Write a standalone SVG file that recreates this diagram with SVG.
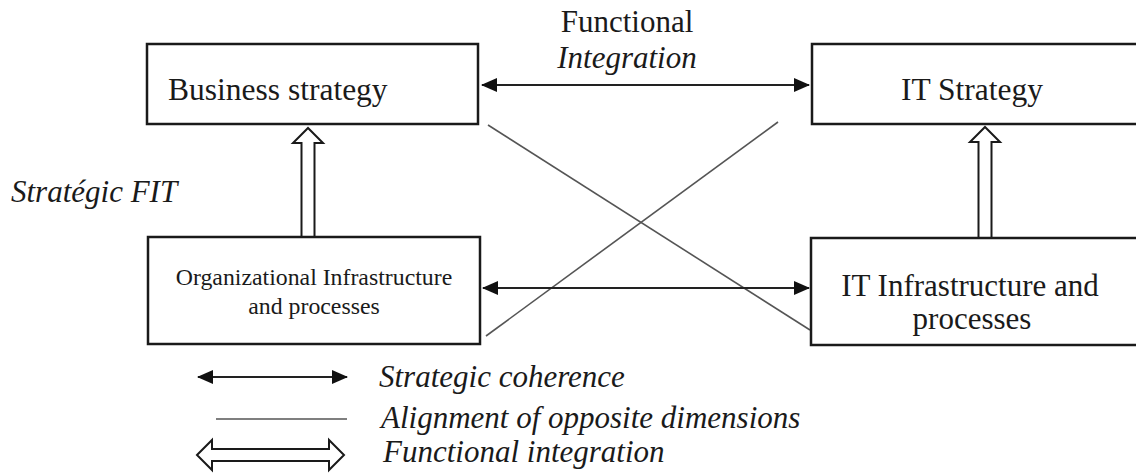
<svg xmlns="http://www.w3.org/2000/svg" width="1136" height="473" viewBox="0 0 1136 473">
<style>
.box{fill:#fff;stroke:#1a1a1a;stroke-width:2.5}
text{font-family:'Liberation Serif','Times New Roman',Times,serif;fill:#1a1a1a}
.i{font-style:italic}
.sc{stroke:#222;stroke-width:2;fill:none;marker-start:url(#ah);marker-end:url(#ah)}
.al{stroke:#555;stroke-width:1.6;fill:none}
.fi{fill:#fff;stroke:#1a1a1a;stroke-width:2}
</style>
<defs>
<marker id="ah" viewBox="0 0 16 14" refX="15" refY="7" markerWidth="16" markerHeight="14" markerUnits="userSpaceOnUse" orient="auto-start-reverse">
<path d="M0,0 L16,7 L0,14 Z" fill="#111"/>
</marker>
</defs>
<rect width="1136" height="473" fill="#fff"/>
<g id="connectors">
<line class="al" x1="488" y1="125" x2="810" y2="330"/>
<line class="al" x1="486" y1="336" x2="778" y2="122"/>
<line class="sc" x1="482" y1="85" x2="809" y2="85"/>
<line class="sc" x1="483" y1="288" x2="809" y2="288"/>
<path class="fi" d="M301.5,237 V143 H293 L308,128 L323,143 H314.5 V237"/>
<path class="fi" d="M978.5,238 V142 H970 L985,127 L1000,142 H991.5 V238"/>
<text x="627" y="32" font-size="31" text-anchor="middle">Functional</text>
<text class="i" x="627" y="68" font-size="31" text-anchor="middle">Integration</text>
<text class="i" x="11" y="202" font-size="31">Stratégic FIT</text>
</g>
<g id="business-strategy">
<rect class="box" x="147" y="44" width="331" height="80"/>
<text x="168" y="100" font-size="31.5">Business strategy</text>
</g>
<g id="it-strategy">
<rect class="box" x="812" y="44" width="340" height="80"/>
<text x="972" y="100" font-size="31.5" text-anchor="middle">IT Strategy</text>
</g>
<g id="org-infra">
<rect class="box" x="148" y="237" width="332" height="107"/>
<text x="314" y="285" font-size="23.8" text-anchor="middle">Organizational Infrastructure</text>
<text x="314" y="314" font-size="23.8" text-anchor="middle">and processes</text>
</g>
<g id="it-infra">
<rect class="box" x="811" y="238" width="340" height="107"/>
<text x="970" y="296" font-size="31" text-anchor="middle">IT Infrastructure and</text>
<text x="972" y="329" font-size="31" text-anchor="middle">processes</text>
</g>
<g id="legend">
<line class="sc" x1="198" y1="377" x2="347" y2="377"/>
<text class="i" x="379" y="387" font-size="31">Strategic coherence</text>
<line class="al" x1="216" y1="419" x2="347" y2="419"/>
<text class="i" x="381" y="428" font-size="31">Alignment of opposite dimensions</text>
<path class="fi" d="M197,455 L212,440 V449 H329 V440 L344,455 L329,470 V461 H212 V470 Z"/>
<text class="i" x="383" y="462" font-size="31">Functional integration</text>
</g>
</svg>
